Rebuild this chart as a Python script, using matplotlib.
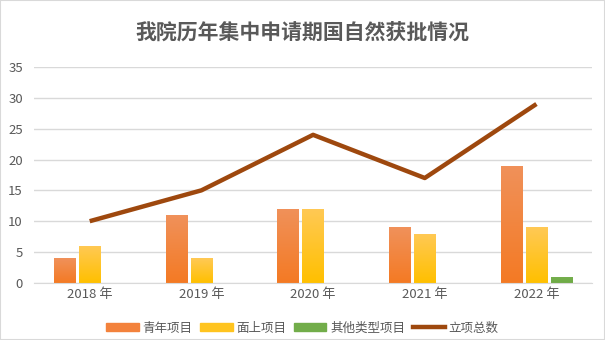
import numpy as np
import matplotlib.pyplot as plt
from matplotlib.patches import Rectangle
from matplotlib.lines import Line2D
from matplotlib.colors import LinearSegmentedColormap

plt.rcParams['font.family'] = ['Noto Sans CJK SC', 'DejaVu Sans']

# data
years = ['2018 年', '2019 年', '2020 年', '2021 年', '2022 年']
youth = [4, 11, 12, 9, 19]
general = [6, 4, 12, 8, 9]
other = [0, 0, 0, 0, 1]
total = [10, 15, 24, 17, 29]

grey = '#595959'
fig = plt.figure(figsize=(6.05, 3.4), dpi=100)
fig.patches.append(Rectangle((0, 0), 1, 1, transform=fig.transFigure,
                             fill=False, edgecolor='#D9D9D9', lw=1.5))
ax = fig.add_axes([0.056, 0.168, 0.923, 0.635])

x = np.arange(len(years))
w = 0.19
off = 0.225

# gradient fills (top lighter, bottom darker)
grads = [
    (youth, -off, ('#F0915A', '#F47A24')),
    (general, 0, ('#FFC955', '#FFC000')),
    (other, off, ('#76B04F', '#6EAA44')),
]
for vals, dx, (top, bot) in grads:
    cmap = LinearSegmentedColormap.from_list('g', [bot, top])
    bars = ax.bar(x + dx, vals, w, color='none', zorder=2)
    for b in bars:
        if b.get_height() <= 0:
            continue
        x0, y0 = b.get_x(), b.get_y()
        im = ax.imshow(np.linspace(0, 1, 64).reshape(-1, 1), cmap=cmap,
                       aspect='auto', origin='lower',
                       extent=[x0, x0 + b.get_width(), y0, y0 + b.get_height()],
                       zorder=2)
        im.set_clip_path(b)

ax.plot(x, total, color='#9E480E', lw=3.2, solid_capstyle='butt', zorder=3)

ax.set_xlim(-0.5, len(years) - 0.5)
ax.set_ylim(0, 35)
ax.set_yticks(range(0, 36, 5))
ax.set_xticks(x)
ax.set_xticklabels(years)
ax.grid(axis='y', color='#D9D9D9', lw=1, zorder=0)
ax.set_axisbelow(True)
for s in ['top', 'right', 'left']:
    ax.spines[s].set_visible(False)
ax.spines['bottom'].set_color('#D9D9D9')
ax.tick_params(axis='both', length=0, colors=grey, labelsize=9.5)
ax.tick_params(axis='y', pad=8)
ax.tick_params(axis='x', pad=4)

fig.text(0.5, 0.905, '我院历年集中申请期国自然获批情况', ha='center', va='center',
         fontsize=15, fontweight='bold', color=grey)

handles = [
    Rectangle((0, 0), 1, 1, color='#F3823C'),
    Rectangle((0, 0), 1, 1, color='#FFC41F'),
    Rectangle((0, 0), 1, 1, color='#72AD4A'),
    Line2D([], [], color='#9E480E', lw=3.2),
]
labels = ['青年项目', '面上项目', '其他类型项目', '立项总数']
fig.legend(handles, labels, loc='center', bbox_to_anchor=(0.5, 0.035),
           ncol=4, frameon=False, fontsize=9, labelcolor=grey,
           handlelength=2.6, handleheight=0.6, columnspacing=0.6,
           handletextpad=0.3)

fig.savefig('out.png', dpi=100)
